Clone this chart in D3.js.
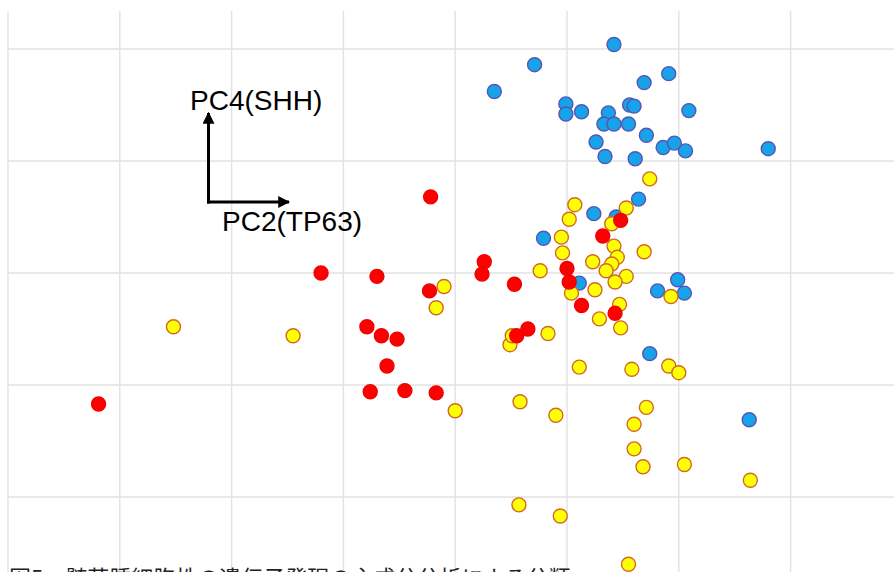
<!DOCTYPE html>
<html>
<head>
<meta charset="utf-8">
<script src="https://cdn.jsdelivr.net/npm/d3@7"></script>
<style>
  html, body { margin: 0; padding: 0; background: #fff; overflow: hidden; }
</style>
</head>
<body>
<div id="scatter"></div>
<script>
// PCA scores (x = PC2, y = PC4)
const blueX = [1.42, 0.71, 0.35, 1.91, 1.69, 0.99, 0.99, 1.13, 1.37, 1.56, 1.60, 1.33, 1.42, 1.55, 2.09, 1.71, 1.26,
  1.34, 1.61, 1.86, 1.96, 2.06, 2.80, 1.64, 1.24, 0.79, 1.44, 1.11, 1.99, 1.81, 2.05, 1.74, 2.63]
const blueY = [2.04, 1.86, 1.62, 1.78, 1.70, 1.51, 1.42, 1.44, 1.43, 1.50, 1.49, 1.33, 1.33, 1.33, 1.45, 1.23, 1.17,
  1.04, 1.02, 1.12, 1.16, 1.09, 1.11, 0.66, 0.53, 0.31, 0.50, -0.09, -0.06, -0.16, -0.18, -0.72, -1.31]

const yellowX = [1.74, 1.07, 1.53, 1.02, 1.40, 0.95, 1.42, 0.96, 1.69, 1.23, 1.45, 1.40, 1.35, 1.53, 1.43, 0.76,
  1.04, 1.25, 1.93, 1.47, 1.29, 1.48, 0.83, 0.49, 0.51, 1.11, 1.58, 1.91, 2.00, 0.00, 0.58, 0.90, 1.71, 1.60,
  1.60, 1.68, 2.05, 2.64, 0.57, 0.94, 1.55, -2.52, -1.45, -0.10, -0.17]
const yellowY = [0.84, 0.61, 0.58, 0.48, 0.44, 0.32, 0.24, 0.18, 0.19, 0.10, 0.14, 0.08, 0.02, -0.03, -0.08, 0.02,
  -0.18, -0.15, -0.21, -0.28, -0.41, -0.49, -0.54, -0.64, -0.56, -0.84, -0.86, -0.83, -0.89, -1.23, -1.15, -1.27,
  -1.20, -1.35, -1.57, -1.73, -1.71, -1.85, -2.07, -2.17, -2.60, -0.48, -0.56, -0.12, -0.31]

const redX = [-3.19, -0.22, -1.20, -0.70, -0.23, -0.79, -0.66, -0.52, -0.61, -0.76, -0.45, -0.17, 0.26, 0.24, 0.53,
  0.65, 0.55, 1.48, 1.32, 1.00, 1.02, 1.13, 1.43]
const redY = [-1.17, 0.68, 0.00, -0.03, -0.16, -0.48, -0.56, -0.59, -0.83, -1.06, -1.05, -1.07, 0.10, -0.01, -0.10,
  -0.50, -0.56, 0.47, 0.33, 0.04, -0.08, -0.29, -0.36]

const gridX = [-4, -3, -2, -1, 0, 1, 2, 3]
const gridY = [2, 1, 0, -1, -2]

const axisLabelX = 'PC2(TP63)'
const axisLabelY = 'PC4(SHH)'
const caption = '図5　髄芽腫細胞株の遺伝子発現の主成分分析による分類'

const width = 894
const height = 572

const svg = d3.select('#scatter').append('svg')
  .attr('width', width)
  .attr('height', height)

const x = d3.scaleLinear().domain([-4, 4]).range([8, 8 + 8 * 111.8])
const y = d3.scaleLinear().domain([2, -2]).range([49, 497])

const gridTop = 11

// grid
svg.append('g')
  .selectAll('line')
  .data(gridX)
  .join('line')
  .attr('x1', d => x(d))
  .attr('x2', d => x(d))
  .attr('y1', gridTop)
  .attr('y2', height)
  .attr('stroke', '#e2e2e2')
  .attr('stroke-width', 1.4)

svg.append('g')
  .selectAll('line')
  .data(gridY)
  .join('line')
  .attr('x1', x(-4))
  .attr('x2', width)
  .attr('y1', d => y(d))
  .attr('y2', d => y(d))
  .attr('stroke', '#e2e2e2')
  .attr('stroke-width', 1.4)

const groups = [
  { xs: blueX, ys: blueY, fill: '#17a3ea', stroke: '#5656b2' },
  { xs: yellowX, ys: yellowY, fill: '#ffff00', stroke: '#cf6a26' },
  { xs: redX, ys: redY, fill: '#ff0000', stroke: '#f20000' }
]

groups.forEach(g => {
  svg.append('g')
    .selectAll('circle')
    .data(g.xs.map((v, i) => [v, g.ys[i]]))
    .join('circle')
    .attr('cx', d => x(d[0]))
    .attr('cy', d => y(d[1]))
    .attr('r', 7)
    .attr('fill', g.fill)
    .attr('stroke', g.stroke)
    .attr('stroke-width', 1.4)
})

// PC direction arrows
svg.append('defs').append('marker')
  .attr('id', 'head')
  .attr('viewBox', '0 0 10 10')
  .attr('refX', 9)
  .attr('refY', 5)
  .attr('markerWidth', 4)
  .attr('markerHeight', 4)
  .attr('orient', 'auto')
  .append('path')
  .attr('d', 'M0,0L10,5L0,10Z')
  .attr('fill', '#000')

const ox = 208.5
const oy = 202
svg.append('line')
  .attr('x1', ox).attr('y1', oy + 1.5)
  .attr('x2', ox).attr('y2', 113)
  .attr('stroke', '#000').attr('stroke-width', 3)
  .attr('marker-end', 'url(#head)')
svg.append('line')
  .attr('x1', ox - 1.5).attr('y1', oy)
  .attr('x2', 289).attr('y2', oy)
  .attr('stroke', '#000').attr('stroke-width', 3)
  .attr('marker-end', 'url(#head)')

svg.append('text')
  .attr('x', 190)
  .attr('y', 110)
  .style('font-family', 'Liberation Sans, Arial, sans-serif')
  .style('font-size', '28px')
  .text(axisLabelY)

svg.append('text')
  .attr('x', 222)
  .attr('y', 231)
  .style('font-family', 'Liberation Sans, Arial, sans-serif')
  .style('font-size', '28px')
  .text(axisLabelX)

svg.append('text')
  .attr('x', 9)
  .attr('y', 586)
  .style('font-family', 'Noto Sans CJK JP, sans-serif')
  .style('font-size', '22px')
  .attr('fill', '#222')
  .text(caption)
</script>
</body>
</html>
